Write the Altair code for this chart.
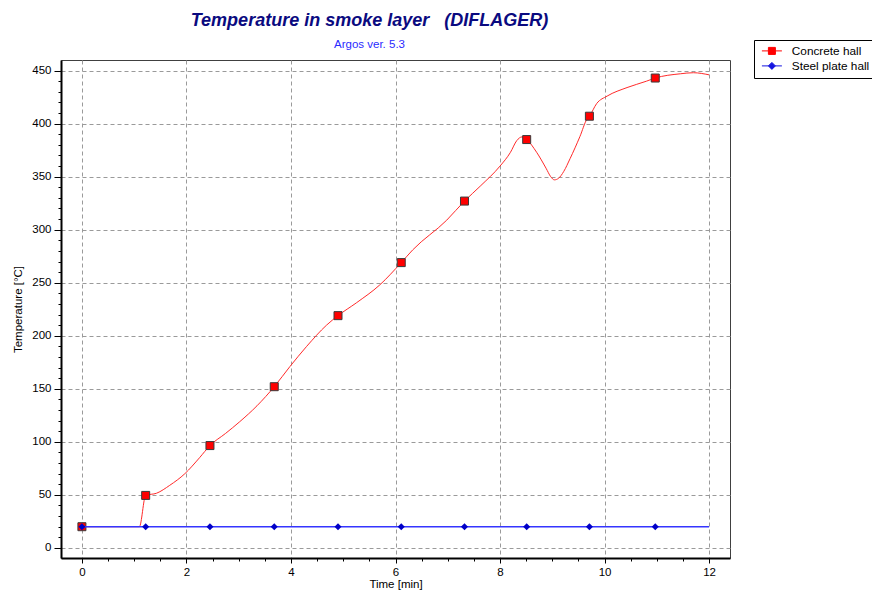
import altair as alt
import pandas as pd

# ---- data ----
marker_x = [0, 1.22, 2.45, 3.68, 4.90, 6.11, 7.32, 8.51, 9.71, 10.97]
concrete_marker_y = [20, 49.5, 96.5, 152, 219, 269, 327, 385, 407, 443]
steel_marker_y = [20, 20, 20, 20, 20, 20, 20, 20, 20, 20]

concrete_line_x = [0, 1.10, 1.22, 1.43, 1.68, 1.97, 2.25, 2.45, 2.75, 3.02, 3.35, 3.68,
                   3.98, 4.30, 4.68, 4.90, 5.25, 5.70, 6.11, 6.33, 6.98, 7.32, 7.62, 8.00,
                   8.20, 8.32, 8.42, 8.51, 8.70, 8.88, 8.97, 9.04, 9.12, 9.22, 9.34, 9.53,
                   9.66, 9.71, 9.85, 10.05, 10.43, 10.80, 10.97, 11.45, 11.70, 12.0]
concrete_line_y = [20, 20, 49.5, 51.6, 59, 70, 85, 96.5, 108, 119, 134, 152,
                   171, 190, 210, 219, 231, 248, 269, 281, 309, 327, 341, 360,
                   373, 384, 387.5, 385, 373, 358, 350, 347, 348.5, 355, 367, 388,
                   404, 407, 419, 426, 434, 440, 443, 447, 448, 446]

steel_line_x = [0, 12]
steel_line_y = [20, 20]

series_names = ["Concrete hall", "Steel plate hall"]
series_colors = ["#ff0000", "#1515e0"]

x_ticks = [0, 0.5, 1, 1.5, 2, 2.5, 3, 3.5, 4, 4.5, 5, 5.5, 6, 6.5, 7, 7.5, 8, 8.5, 9, 9.5,
           10, 10.5, 11, 11.5, 12]
y_ticks = list(range(0, 460, 10))

FONT = "Liberation Sans"

conc_line = pd.DataFrame({"x": concrete_line_x, "y": concrete_line_y})
steel_line = pd.DataFrame({"x": steel_line_x, "y": steel_line_y})
conc_pts = pd.DataFrame({"x": marker_x, "y": concrete_marker_y, "series": series_names[0]})
steel_pts = pd.DataFrame({"x": marker_x, "y": steel_marker_y, "series": series_names[1]})
legend_df = pd.concat([conc_pts, steel_pts])

xscale = alt.Scale(domain=[-0.4, 12.4], nice=False, zero=False)
yscale = alt.Scale(domain=[-9.5, 460], nice=False, zero=False)

xaxis = alt.Axis(
    values=x_ticks,
    format="~g",
    labelExpr="datum.value % 2 === 0 ? datum.label : ''",
    gridOpacity={"condition": {"test": "datum.value % 2 === 0", "value": 1}, "value": 0},
    tickSize={"condition": {"test": "datum.value % 2 === 0", "value": 5}, "value": 3},
    labelFlush=False,
    labelPadding=3,
    titlePadding=1,
)
yaxis = alt.Axis(
    values=y_ticks,
    labelExpr="datum.value % 50 === 0 ? datum.label : ''",
    gridOpacity={"condition": {"test": "datum.value % 50 === 0", "value": 1}, "value": 0},
    tickSize={"condition": {"test": "datum.value % 50 === 0", "value": 7}, "value": 3},
    labelFlush=False,
    labelPadding=3,
    titlePadding=8,
)

X = alt.X("x:Q", scale=xscale, axis=xaxis, title="Time [min]")
Y = alt.Y("y:Q", scale=yscale, axis=yaxis, title="Temperature [°C]")

l_conc = alt.Chart(conc_line).mark_line(
    color="#ff2a2a", strokeWidth=1, interpolate="monotone"
).encode(x=X, y=Y)
p_conc = alt.Chart(conc_pts).mark_point(
    shape="square", filled=True, fill="#ff0000", stroke="#3a3a3a", strokeWidth=1,
    size=64, opacity=1
).encode(x=X, y=Y)
l_steel = alt.Chart(steel_line).mark_line(color="#3535ff", strokeWidth=1.5).encode(x=X, y=Y)
p_steel = alt.Chart(steel_pts).mark_point(
    shape="diamond", filled=True, color="#0000c8", size=50, opacity=1
).encode(x=X, y=Y)

legend = alt.Legend(
    title=None, orient="none", legendX=693, legendY=-20,
    strokeColor="black", fillColor="white", padding=5,
    symbolSize=100, symbolOffset=7, labelOffset=14, symbolOpacity=1,
    symbolStrokeWidth=1, labelFontSize=11.8, labelFont=FONT, rowPadding=2,
    labelColor="black",
)
shape_paths = [
    "M-2,0H-0.7M0.7,0H2M-0.7,-0.7H0.7V0.7H-0.7Z",
    "M-2,0H-0.6M0.6,0H2M0,-0.7L0.7,0L0,0.7L-0.7,0Z",
]
p_legend = alt.Chart(legend_df).mark_point(filled=True, opacity=0).encode(
    x=X, y=Y,
    fill=alt.Fill("series:N", scale=alt.Scale(domain=series_names, range=series_colors), legend=legend),
    stroke=alt.Stroke("series:N", scale=alt.Scale(domain=series_names, range=series_colors), legend=legend),
    shape=alt.Shape("series:N", scale=alt.Scale(domain=series_names, range=shape_paths), legend=legend),
)

chart = alt.layer(l_conc, p_conc, l_steel, p_steel, p_legend).properties(
    width=669, height=498,
    padding={"left": 53, "top": 52, "right": 142, "bottom": 35},
    autosize=alt.AutoSizeParams(type="none"),
    title=alt.TitleParams(
        text="Temperature in smoke layer \u00a0 (DIFLAGER)",
        subtitle="Argos ver. 5.3",
        anchor="middle", dx=-26, offset=8, dy=19,
        font=FONT, fontSize=18, fontWeight="bold", fontStyle="italic", color="#0a0a80",
        subtitleFont=FONT, subtitleFontSize=11.5, subtitleColor="#2a2aff",
        subtitlePadding=9,
    ),
).configure_view(
    stroke="#404040", strokeWidth=1
).configure_axis(
    domainColor="black", domainWidth=2,
    gridColor="#9a9a9a", gridDash=[4, 3], gridWidth=1,
    tickColor="black", tickWidth=1,
    labelFont=FONT, labelFontSize=11.5, labelColor="black",
    titleFont=FONT, titleFontSize=11.5, titleFontWeight="normal", titleColor="black",
)

chart.save("out.html", embed_options={"renderer": "svg", "actions": False})
